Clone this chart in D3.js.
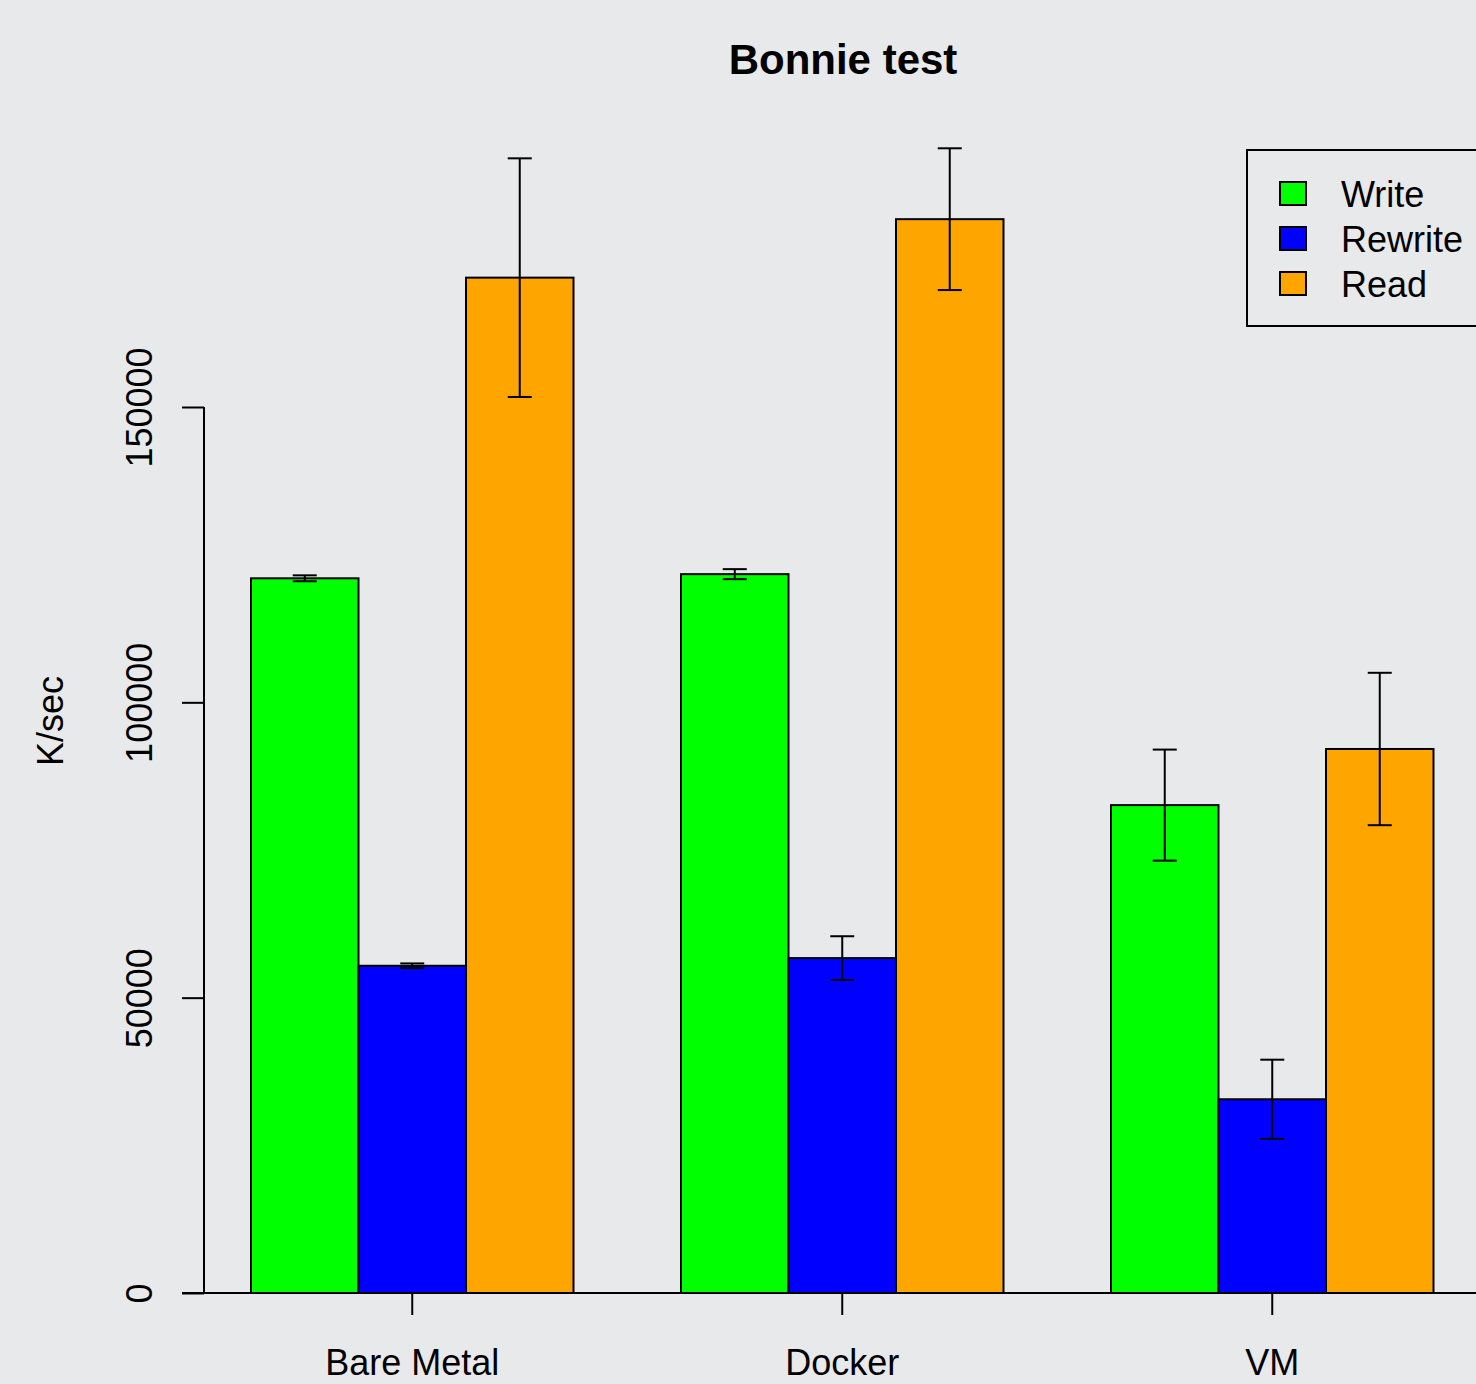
<!DOCTYPE html>
<html>
<head>
<meta charset="utf-8">
<script src="https://cdn.jsdelivr.net/npm/d3@7"></script>
<style>
  body { margin: 0; background: #e8e9eb; }
  svg { display: block; font-family: "Liberation Sans", Arial, sans-serif; }
</style>
</head>
<body>
<div id="chart"></div>
<script>
(function () {
  "use strict";

  /***** Données *****/
  var categories = ["Bare Metal", "Docker", "VM"];
  var series = ["Write", "Rewrite", "Read"];
  var colors = ["#00ff00", "#0000ff", "#ffa500"];
  // moyennes par série (une valeur par catégorie)
  var writeVals = [121000, 121700, 82600];
  var rewriteVals = [55400, 56700, 32800];
  var readVals = [171900, 181800, 92100];
  // demi-largeur des barres d'erreur
  var writeErr = [500, 850, 9400];
  var rewriteErr = [400, 3700, 6700];
  var readErr = [20200, 12000, 12900];
  var yTicks = [0, 50000, 100000, 150000];

  var values = [writeVals, rewriteVals, readVals];
  var errors = [writeErr, rewriteErr, readErr];

  /***** Configuration *****/
  var width = 1476, height = 1384;

  var svg = d3.select("#chart").append("svg")
    .attr("width", width)
    .attr("height", height);

  svg.append("rect").attr("width", width).attr("height", height).attr("fill", "#e8e9eb");

  // échelle en unités de barres (style barplot R, space = c(0, 1))
  var x = d3.scaleLinear().domain([0, 1]).range([143.5, 251]);
  var y = d3.scaleLinear().domain([0, 150000]).range([1293, 407]);

  var data = [];
  categories.forEach(function (c, g) {
    series.forEach(function (s, i) {
      data.push({g: g, i: i, pos: 1 + g * 4 + i, v: values[i][g], e: errors[i][g]});
    });
  });

  // ligne de base
  svg.append("line")
    .attr("x1", 182).attr("x2", width)
    .attr("y1", y(0)).attr("y2", y(0))
    .attr("stroke", "#000").attr("stroke-width", 2);

  // barres
  svg.selectAll("rect.bar").data(data).enter().append("rect")
    .attr("class", "bar")
    .attr("x", function (d) { return x(d.pos); })
    .attr("width", function (d) { return x(d.pos + 1) - x(d.pos); })
    .attr("y", function (d) { return y(d.v); })
    .attr("height", function (d) { return y(0) - y(d.v); })
    .attr("fill", function (d) { return colors[d.i]; })
    .attr("stroke", "#000").attr("stroke-width", 2);

  // barres d'erreur
  var eb = svg.selectAll("g.err").data(data).enter().append("g")
    .attr("class", "err")
    .attr("stroke", "#000").attr("stroke-width", 2);
  eb.append("line")
    .attr("x1", function (d) { return x(d.pos + 0.5); })
    .attr("x2", function (d) { return x(d.pos + 0.5); })
    .attr("y1", function (d) { return y(d.v + d.e); })
    .attr("y2", function (d) { return y(d.v - d.e); });
  [1, -1].forEach(function (sign) {
    eb.append("line")
      .attr("x1", function (d) { return x(d.pos + 0.5) - 12; })
      .attr("x2", function (d) { return x(d.pos + 0.5) + 12; })
      .attr("y1", function (d) { return y(d.v + sign * d.e); })
      .attr("y2", function (d) { return y(d.v + sign * d.e); });
  });

  // axe Y
  var yAxis = svg.append("g")
    .attr("transform", "translate(204,0)")
    .call(d3.axisLeft(y).tickValues(yTicks).tickSize(22).tickSizeOuter(0).tickFormat(d3.format("d")));
  yAxis.selectAll("path, line").attr("stroke", "#000").attr("stroke-width", 2);
  yAxis.select(".domain").attr("d", "M0," + y(150000) + "V" + y(0));
  yAxis.selectAll("text")
    .attr("x", 0).attr("y", 0)
    .attr("dy", null)
    .attr("transform", "translate(-52,0) rotate(-90)")
    .attr("text-anchor", "middle")
    .attr("fill", "#000")
    .style("font-size", "36px");

  // axe X (ticks aux centres des groupes)
  var xAxis = svg.append("g")
    .attr("transform", "translate(0," + y(0) + ")");
  categories.forEach(function (c, g) {
    var cx = x(1 + g * 4 + 1.5);
    xAxis.append("line")
      .attr("x1", cx).attr("x2", cx).attr("y1", 0).attr("y2", 22)
      .attr("stroke", "#000").attr("stroke-width", 2);
    xAxis.append("text")
      .attr("x", cx).attr("y", 82)
      .attr("text-anchor", "middle")
      .style("font-size", "36px")
      .text(c);
  });

  // titre
  svg.append("text")
    .attr("x", 843).attr("y", 74)
    .attr("text-anchor", "middle")
    .style("font-size", "42px").style("font-weight", "bold")
    .text("Bonnie test");

  // titre axe Y
  svg.append("text")
    .attr("transform", "translate(63,721) rotate(-90)")
    .attr("text-anchor", "middle")
    .style("font-size", "36px")
    .text("K/sec");

  // légende
  var legend = svg.append("g").attr("transform", "translate(1247,150)");
  legend.append("rect")
    .attr("width", 260).attr("height", 176)
    .attr("fill", "none").attr("stroke", "#000").attr("stroke-width", 2);
  series.forEach(function (s, i) {
    legend.append("rect")
      .attr("x", 33).attr("y", 32 + i * 45)
      .attr("width", 26).attr("height", 23)
      .attr("fill", colors[i]).attr("stroke", "#000").attr("stroke-width", 2);
    legend.append("text")
      .attr("x", 94).attr("y", 57 + i * 45)
      .style("font-size", "36px")
      .text(s);
  });
})();
</script>
</body>
</html>
